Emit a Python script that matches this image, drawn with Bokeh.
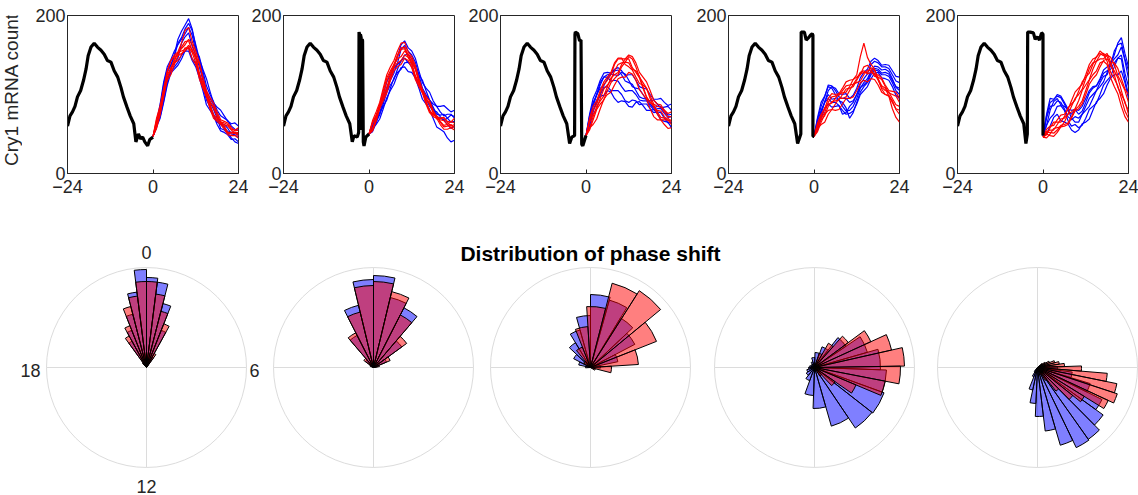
import math
from bokeh.plotting import figure
from bokeh.layouts import row, column
from bokeh.models import Range1d, FixedTicker, Label
from bokeh.embed import file_html
from bokeh.resources import INLINE

FONT = "Liberation Sans"
TXT = "#262626"

# ---------------- data: top panels ----------------
trace_t = list(range(0, 25))

black_t_common = [-24, -23.3, -22.6, -21.9, -21.2, -20.3, -19.5, -18.8, -18.2, -17.4, -16.5,
                  -15.6, -14.6, -13.7, -12.8, -11.8, -10.9, -9.9, -9.0, -8.3, -7.3, -6.4, -5.4]
black_y_common = [60, 73, 78, 85, 97, 105, 118, 132, 149, 160, 165,
                  160, 156, 151, 143, 141, 130, 122, 109, 97, 84, 73, 63]

black_tail_t1 = [-4.8, -4.1, -3.5, -2.9, -2.3, -1.5, -0.9, 0]
black_tail_y1 = [40, 50, 44, 46, 40, 35, 43, 46]
black_tail_t2 = [-4.7, -4.2, -3.3, -2.9, -2.8, -2.6, -2.5, -2.4, -2.2, -2.1, -1.9, -1.8, -1.6, -1.4, -0.9, 0]
black_tail_y2 = [40, 48, 46, 52, 179, 176, 60, 176, 172, 55, 170, 168, 40, 35, 46, 50]
black_tail_t3 = [-4.6, -4.0, -3.2, -3.1, -3.0, -2.3, -1.8, -1.4, -1.2, -0.9, 0]
black_tail_y3 = [38, 46, 48, 176, 179, 177, 168, 169, 37, 35, 48]
black_tail_t4 = [-4.6, -4.0, -3.7, -3.6, -2.7, -2.2, -1.5, -1.0, -0.5, -0.3, -0.3, 0]
black_tail_y4 = [38, 46, 50, 179, 179, 169, 172, 175, 177, 175, 47, 47]
black_tail_t5 = [-4.8, -4.4, -4.3, -3.6, -2.7, -2.2, -1.6, -1.0, -0.4, -0.1, 0, 0]
black_tail_y5 = [38, 50, 179, 179, 178, 170, 173, 169, 178, 177, 176, 48]

p1_blue = [[47, 58, 80, 110, 128, 137, 150, 170, 180, 188, 196, 183, 160, 143, 125, 104, 95, 87, 75, 64, 62, 57, 50, 49, 45],
           [47, 61, 72, 92, 115, 133, 140, 146, 165, 173, 178, 161, 150, 135, 118, 98, 90, 81, 70, 57, 55, 51, 45, 40, 38],
           [47, 65, 88, 116, 135, 144, 155, 163, 170, 177, 185, 175, 155, 148, 130, 111, 100, 91, 80, 73, 70, 67, 60, 56, 55],
           [47, 63, 76, 97, 120, 129, 135, 141, 150, 155, 160, 145, 140, 125, 110, 93, 85, 75, 65, 63, 58, 53, 52, 52, 48],
           [47, 61, 84, 113, 132, 137, 148, 165, 172, 183, 190, 181, 163, 145, 132, 120, 104, 89, 84, 80, 73, 66, 63, 64, 60],
           [47, 59, 70, 90, 112, 127, 132, 137, 145, 155, 155, 143, 135, 121, 105, 87, 80, 73, 62, 54, 52, 49, 43, 44, 40]]
p1_red = [[47, 60, 78, 105, 122, 130, 142, 153, 158, 163, 170, 163, 150, 127, 115, 103, 88, 74, 70, 66, 60, 52, 52, 52, 50],
          [47, 68, 82, 103, 128, 143, 150, 154, 165, 181, 185, 167, 155, 141, 120, 101, 92, 83, 72, 63, 62, 60, 55, 51, 52],
          [47, 57, 74, 101, 118, 125, 138, 149, 152, 155, 160, 153, 140, 120, 108, 97, 82, 70, 66, 62, 56, 49, 48, 48, 45],
          [47, 70, 86, 107, 130, 143, 148, 150, 160, 167, 168, 155, 148, 139, 122, 105, 96, 89, 78, 68, 66, 64, 58, 54, 55],
          [47, 60, 80, 107, 125, 133, 145, 153, 155, 157, 162, 157, 145, 125, 112, 101, 85, 73, 68, 65, 58, 51, 50, 51, 48],
          [47, 64, 76, 97, 120, 134, 140, 143, 150, 159, 158, 145, 138, 126, 110, 97, 90, 85, 74, 65, 64, 62, 56, 55, 58]]

p2_blue = [[50, 61, 68, 77, 92, 109, 118, 127, 140, 157, 162, 155, 150, 141, 125, 108, 100, 93, 82, 72, 70, 68, 62, 57, 60],
           [50, 53, 64, 77, 85, 93, 108, 121, 128, 132, 140, 141, 135, 122, 115, 107, 95, 85, 80, 78, 72, 67, 70, 74, 72],
           [50, 63, 72, 83, 100, 116, 125, 135, 148, 163, 168, 159, 155, 146, 130, 115, 108, 103, 92, 85, 85, 86, 82, 78, 80],
           [50, 58, 62, 69, 82, 96, 105, 113, 125, 134, 135, 129, 128, 121, 108, 94, 88, 81, 70, 59, 56, 53, 45, 40, 42],
           [50, 56, 70, 86, 96, 105, 120, 133, 138, 142, 150, 151, 145, 133, 125, 118, 105, 93, 88, 85, 78, 73, 75, 75, 70],
           [50, 60, 66, 74, 88, 103, 112, 119, 132, 143, 146, 140, 140, 133, 120, 105, 98, 93, 84, 75, 74, 75, 70, 65, 66]]
p2_red = [[50, 65, 74, 87, 105, 121, 130, 138, 150, 159, 160, 150, 145, 134, 118, 103, 95, 89, 78, 69, 68, 67, 62, 58, 60],
          [50, 57, 70, 87, 98, 109, 124, 138, 145, 148, 155, 151, 140, 124, 115, 106, 92, 80, 75, 73, 65, 59, 60, 62, 58],
          [50, 67, 78, 90, 108, 125, 135, 143, 155, 165, 166, 154, 148, 137, 120, 106, 98, 92, 80, 72, 70, 70, 65, 60, 62],
          [50, 55, 68, 85, 95, 105, 120, 134, 140, 143, 150, 147, 138, 122, 112, 104, 90, 79, 74, 73, 66, 61, 62, 66, 64],
          [50, 64, 72, 83, 100, 117, 128, 136, 148, 157, 158, 147, 142, 132, 116, 102, 94, 88, 77, 70, 70, 71, 66, 65, 70],
          [50, 54, 66, 82, 92, 102, 118, 130, 135, 138, 146, 143, 134, 119, 110, 102, 88, 77, 72, 70, 62, 56, 56, 58, 55]]

p3_blue = [[48, 75, 95, 105, 118, 127, 128, 127, 130, 131, 125, 117, 115, 113, 105, 97, 95, 94, 88, 83, 85, 85, 80, 74, 75],
           [48, 63, 85, 100, 108, 111, 120, 126, 125, 124, 128, 126, 118, 110, 108, 107, 100, 93, 92, 93, 88, 83, 84, 85, 80],
           [48, 67, 80, 89, 100, 109, 110, 105, 105, 105, 100, 92, 90, 93, 92, 87, 88, 88, 82, 77, 78, 77, 70, 64, 65],
           [48, 73, 90, 99, 112, 122, 125, 126, 132, 134, 130, 124, 125, 125, 118, 110, 108, 107, 100, 94, 94, 95, 90, 86, 88],
           [48, 59, 78, 93, 98, 99, 105, 103, 95, 90, 92, 91, 85, 84, 90, 91, 86, 80, 80, 81, 76, 68, 66, 65, 58],
           [48, 71, 88, 100, 115, 122, 122, 117, 118, 117, 110, 104, 105, 105, 100, 93, 92, 92, 86, 81, 82, 82, 76, 71, 72]]
p3_red = [[48, 65, 75, 82, 95, 107, 112, 118, 130, 138, 140, 141, 148, 145, 135, 122, 115, 108, 95, 84, 80, 79, 72, 67, 68],
          [48, 55, 68, 81, 88, 93, 105, 115, 120, 125, 135, 141, 140, 132, 130, 123, 110, 97, 90, 85, 75, 68, 68, 68, 62],
          [48, 67, 80, 88, 102, 113, 118, 125, 138, 145, 145, 145, 150, 148, 140, 128, 122, 116, 105, 93, 88, 87, 80, 76, 78],
          [48, 58, 62, 69, 82, 94, 100, 103, 112, 120, 122, 122, 128, 126, 118, 106, 100, 94, 82, 72, 68, 68, 62, 57, 58],
          [48, 57, 72, 85, 92, 98, 110, 121, 125, 128, 138, 145, 145, 134, 128, 121, 108, 96, 90, 87, 78, 71, 70, 70, 65],
          [48, 70, 85, 92, 105, 116, 122, 128, 140, 146, 146, 138, 135, 131, 122, 114, 112, 108, 98, 88, 85, 84, 78, 72, 72]]

p4_blue = [[47, 69, 85, 97, 112, 111, 105, 97, 95, 95, 90, 92, 100, 113, 120, 126, 138, 142, 140, 135, 135, 133, 125, 117, 115],
           [47, 58, 75, 91, 100, 94, 95, 93, 85, 79, 80, 85, 95, 108, 115, 120, 130, 136, 135, 131, 132, 129, 120, 109, 105],
           [47, 71, 90, 98, 110, 108, 100, 92, 90, 83, 70, 77, 90, 103, 110, 115, 125, 131, 130, 125, 125, 123, 115, 105, 100],
           [47, 55, 70, 82, 88, 84, 85, 86, 80, 75, 76, 79, 88, 100, 105, 110, 120, 127, 128, 121, 120, 118, 110, 99, 95],
           [47, 66, 80, 90, 105, 110, 108, 101, 100, 101, 95, 99, 108, 121, 128, 132, 142, 146, 143, 137, 138, 137, 130, 123, 122],
           [47, 59, 78, 90, 95, 90, 90, 86, 75, 77, 85, 90, 100, 109, 112, 117, 128, 133, 132, 127, 128, 126, 118, 110, 108]]
p4_red = [[47, 61, 70, 77, 90, 97, 98, 99, 105, 111, 112, 113, 120, 128, 130, 126, 128, 126, 118, 109, 105, 103, 95, 87, 85],
          [47, 53, 65, 75, 80, 81, 88, 95, 95, 97, 105, 113, 115, 117, 125, 131, 130, 123, 122, 119, 110, 102, 100, 98, 90],
          [47, 64, 75, 82, 95, 101, 100, 101, 108, 116, 118, 119, 125, 148, 165, 147, 138, 132, 120, 107, 100, 99, 92, 81, 75],
          [47, 57, 62, 65, 75, 81, 80, 81, 88, 95, 95, 97, 105, 115, 118, 116, 120, 119, 112, 103, 100, 98, 90, 82, 80],
          [47, 57, 72, 83, 88, 89, 95, 101, 102, 103, 110, 119, 122, 125, 135, 137, 132, 125, 125, 121, 112, 105, 104, 103, 95],
          [47, 60, 68, 73, 85, 91, 92, 93, 100, 107, 108, 110, 118, 126, 128, 128, 134, 130, 120, 111, 108, 98, 82, 71, 65]]

p5_blue = [[48, 73, 90, 93, 100, 98, 90, 82, 80, 81, 75, 79, 90, 102, 108, 111, 120, 131, 135, 139, 150, 165, 172, 152, 135],
           [48, 61, 80, 91, 95, 87, 85, 81, 70, 65, 65, 75, 80, 85, 95, 105, 110, 116, 128, 139, 145, 150, 160, 143, 120],
           [48, 61, 70, 75, 85, 86, 80, 67, 60, 62, 58, 61, 70, 81, 85, 89, 100, 112, 118, 123, 135, 146, 150, 127, 110],
           [48, 75, 95, 94, 98, 96, 88, 79, 75, 81, 80, 85, 95, 105, 110, 111, 118, 127, 130, 132, 140, 146, 145, 119, 100],
           [48, 50, 60, 71, 75, 67, 65, 63, 55, 52, 55, 63, 65, 69, 80, 91, 95, 101, 112, 121, 125, 125, 130, 115, 95],
           [48, 70, 85, 86, 92, 90, 82, 72, 68, 72, 70, 75, 85, 95, 100, 105, 115, 123, 125, 137, 155, 163, 165, 145, 130]]
p5_red = [[46, 53, 55, 55, 62, 69, 70, 75, 85, 95, 100, 107, 120, 133, 140, 142, 150, 152, 148, 136, 130, 121, 105, 89, 80],
          [46, 45, 50, 57, 58, 59, 65, 75, 78, 82, 92, 105, 112, 119, 132, 142, 145, 145, 150, 147, 138, 124, 115, 105, 90],
          [46, 56, 60, 61, 68, 74, 75, 81, 92, 103, 108, 113, 125, 138, 145, 147, 155, 151, 142, 128, 120, 111, 95, 79, 70],
          [46, 50, 48, 47, 52, 59, 60, 62, 70, 79, 82, 88, 100, 113, 120, 125, 135, 143, 145, 140, 140, 133, 120, 107, 100],
          [46, 49, 58, 65, 65, 65, 72, 83, 88, 93, 104, 116, 122, 127, 138, 148, 152, 149, 152, 141, 125, 109, 100, 91, 75],
          [46, 52, 52, 51, 55, 61, 62, 64, 72, 81, 85, 92, 105, 118, 125, 130, 140, 142, 138, 121, 110, 101, 85, 72, 65]]

x_ticks = [-24, 0, 24]
y_ticks = [0, 200]
y_label = "Cry1 mRNA count"

# ---------------- data: phase-shift roses (bin start/width in hours, bar lengths) ----------------
r1_blue_start, r1_blue_width = -2.88, 0.48
r1_blue = [5, 30, 40, 55, 76, 98, 90, 86, 66, 40, 12]
r1_red_start, r1_red_width = -2.88, 0.48
r1_red = [6, 36, 45, 63, 72, 86, 86, 74, 58, 47, 16]

r2_blue_start, r2_blue_width = -4.5, 0.9
r2_blue = [3, 10, 36, 64, 88, 92, 72, 67, 35, 14, 4]
r2_red_start, r2_red_width = -4.5, 0.9
r2_red = [4, 12, 39, 57, 82, 86, 78, 59, 41, 18, 6]

r3_blue_start, r3_blue_width = -6.24, 1.04
r3_blue = [5, 12, 19, 29, 39, 52, 73, 70, 58, 50, 28, 10]
r3_red_start, r3_red_width = -3.84, 1.2
r3_red = [8, 22, 41, 61, 87, 91, 71, 48, 21, 5]

r4_blue_start, r4_blue_width = 0.1333, 1.2
r4_blue = [15, 22, 38, 55, 66, 72, 74, 73, 61, 41, 28, 14, 10, 8, 6, 5, 4, 4, 6, 10]
r4_red_start, r4_red_width = 1.2, 0.79
r4_red = [15, 28, 42, 62, 79, 90, 86, 72, 45, 25, 10]

r5_blue_start, r5_blue_width = 5.24, 0.63
r5_blue = [12, 20, 35, 55, 72, 81, 88, 89, 81, 64, 49, 36, 23, 10, 5]
r5_red_start, r5_red_width = 3.1667, 0.45
r5_red = [6, 9, 13, 18, 22, 27, 44, 70, 81, 84, 78, 55, 45, 30, 15, 8]

rose_title = "Distribution of phase shift"
clock_labels = ["0", "6", "12", "18"]

# ---------------- layout constants (pixels) ----------------
LABEL_W = 22
frame_w = [171, 171, 172, 171, 171]
border_l = [67 - LABEL_W, 35, 34, 40, 41]
border_r = [10, 11, 17, 17, 10]
TOP_H = 203
BOT_H = 292
TOTAL_W = LABEL_W + sum(border_l) + sum(frame_w) + sum(border_r)
rose_cx = [146, 373, 590, 814, 1037]
rose_cy = 128
R = 100

# narrow strip holding the y-axis title of the first panel
lab = figure(width=LABEL_W, height=TOP_H, x_range=Range1d(0, LABEL_W), y_range=Range1d(0, TOP_H),
             output_backend="svg", toolbar_location=None,
             min_border_left=0, min_border_right=0, min_border_top=0, min_border_bottom=0,
             x_axis_type=None, y_axis_type=None)
lab.grid.visible = False
lab.outline_line_color = None
lab.add_layout(Label(x=11, y=TOP_H - 95, text=y_label, angle=90, angle_units="deg",
                     text_font=FONT, text_font_size="19px", text_color=TXT,
                     text_align="center", text_baseline="middle"))

panels = [
    (p1_blue, p1_red, black_tail_t1, black_tail_y1),
    (p2_blue, p2_red, black_tail_t2, black_tail_y2),
    (p3_blue, p3_red, black_tail_t3, black_tail_y3),
    (p4_blue, p4_red, black_tail_t4, black_tail_y4),
    (p5_blue, p5_red, black_tail_t5, black_tail_y5),
]

tops = [lab]
for i, (blue, red, bt, by) in enumerate(panels):
    p = figure(width=border_l[i] + frame_w[i] + border_r[i], height=TOP_H,
               x_range=Range1d(-24, 24), y_range=Range1d(0, 200),
               output_backend="svg", toolbar_location=None,
               min_border_left=border_l[i], min_border_right=border_r[i],
               min_border_top=15, min_border_bottom=30)
    p.xaxis.ticker = FixedTicker(ticks=x_ticks)
    p.yaxis.ticker = FixedTicker(ticks=y_ticks)
    p.grid.visible = False
    p.outline_line_color = TXT
    p.axis.axis_line_color = TXT
    p.axis.major_tick_line_color = TXT
    p.axis.major_tick_in = 4
    p.axis.major_tick_out = 0
    p.axis.minor_tick_line_color = None
    p.axis.major_label_text_font = FONT
    p.axis.major_label_text_font_size = "18px"
    p.axis.major_label_text_color = TXT
    p.yaxis.major_label_standoff = 2
    p.xaxis.major_label_standoff = 6
    p.multi_line([trace_t] * len(blue), blue, line_color="#0000ff", line_width=1.2)
    p.multi_line([trace_t] * len(red), red, line_color="#ff0000", line_width=1.2)
    p.line(black_t_common + bt, black_y_common + by, line_color="black", line_width=3.2)
    tops.append(p)

pb = figure(width=TOTAL_W, height=BOT_H,
            x_range=Range1d(0, TOTAL_W), y_range=Range1d(0, BOT_H),
            output_backend="svg", toolbar_location=None, min_border=0,
            x_axis_type=None, y_axis_type=None)
pb.grid.visible = False
pb.outline_line_color = None

roses = [
    (r1_blue_start, r1_blue_width, r1_blue, r1_red_start, r1_red_width, r1_red),
    (r2_blue_start, r2_blue_width, r2_blue, r2_red_start, r2_red_width, r2_red),
    (r3_blue_start, r3_blue_width, r3_blue, r3_red_start, r3_red_width, r3_red),
    (r4_blue_start, r4_blue_width, r4_blue, r4_red_start, r4_red_width, r4_red),
    (r5_blue_start, r5_blue_width, r5_blue, r5_red_start, r5_red_width, r5_red),
]

GRID = "#dcdcdc"
pb.circle(x=rose_cx, y=[rose_cy] * 5, radius=R, fill_color=None, line_color=GRID, line_width=1)
pb.segment(x0=[c - R for c in rose_cx], y0=[rose_cy] * 5, x1=[c + R for c in rose_cx], y1=[rose_cy] * 5,
           line_color=GRID, line_width=1)
pb.segment(x0=rose_cx, y0=[rose_cy - R] * 5, x1=rose_cx, y1=[rose_cy + R] * 5,
           line_color=GRID, line_width=1)


def wedges(cx, start, width, lens):
    xs, ys, rs, a0, a1 = [], [], [], [], []
    for k, L in enumerate(lens):
        h0 = start + k * width
        h1 = h0 + width
        xs.append(cx)
        ys.append(rose_cy)
        rs.append(L)
        a0.append(math.radians(90 - h1 * 15))
        a1.append(math.radians(90 - h0 * 15))
    return dict(x=xs, y=ys, radius=rs, start_angle=a0, end_angle=a1)


for cx, (bs, bw, bl, rs_, rw, rl) in zip(rose_cx, roses):
    pb.wedge(**wedges(cx, bs, bw, bl), fill_color="#0000ff", fill_alpha=0.5,
             line_color="black", line_width=1)
    pb.wedge(**wedges(cx, rs_, rw, rl), fill_color="#ff0000", fill_alpha=0.5,
             line_color="black", line_width=1)

c0 = rose_cx[0]
lab_specs = [
    (clock_labels[0], c0, rose_cy + 115, "center", "middle"),
    (clock_labels[1], c0 + 103, rose_cy - 3, "left", "middle"),
    (clock_labels[2], c0, rose_cy - 112, "center", "top"),
    (clock_labels[3], c0 - 106, rose_cy - 3, "right", "middle"),
]
for txt, x, y, al, bl in lab_specs:
    pb.add_layout(Label(x=x, y=y, text=txt, text_font=FONT, text_font_size="18px",
                        text_color=TXT, text_align=al, text_baseline=bl))

pb.add_layout(Label(x=rose_cx[2], y=rose_cy + 114, text=rose_title, text_font=FONT,
                    text_font_size="21px", text_font_style="bold", text_color="black",
                    text_align="center", text_baseline="middle"))

layout = column(row(*tops), pb)
open("out.html", "w").write(file_html(layout, INLINE))
